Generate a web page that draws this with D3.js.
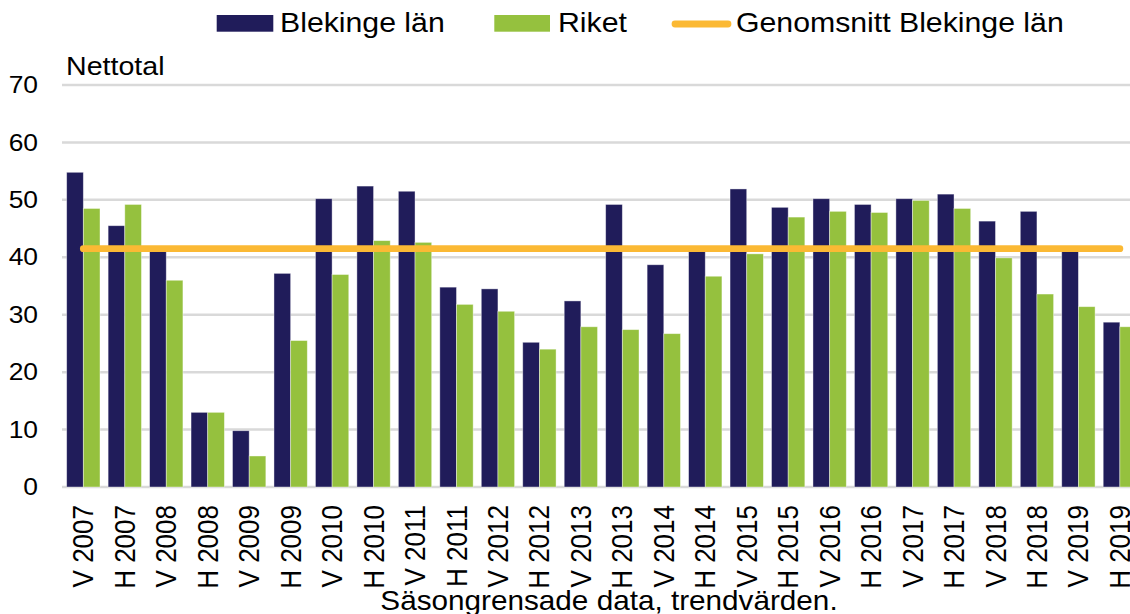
<!DOCTYPE html>
<html>
<head>
<meta charset="utf-8">
<script src="https://cdn.jsdelivr.net/npm/d3@7"></script>
<style>
  body { margin: 0; background: #fff; }
  text { font-family: "Liberation Sans", Arial, sans-serif; fill: #000; }
</style>
</head>
<body>
<script>
// chart data
const periods = ['V 2007', 'H 2007', 'V 2008', 'H 2008', 'V 2009', 'H 2009', 'V 2010', 'H 2010',
  'V 2011', 'H 2011', 'V 2012', 'H 2012', 'V 2013', 'H 2013', 'V 2014', 'H 2014', 'V 2015',
  'H 2015', 'V 2016', 'H 2016', 'V 2017', 'H 2017', 'V 2018', 'H 2018', 'V 2019', 'H 2019'];
const blekinge = [54.8, 45.5, 41.2, 13.0, 9.8, 37.2, 50.2, 52.4, 51.5, 34.8, 34.5, 25.2, 32.4,
  49.2, 38.7, 41.2, 51.9, 48.7, 50.2, 49.2, 50.2, 51.0, 46.3, 48.0, 41.2, 28.7];
const riket = [48.5, 49.2, 36.0, 13.0, 5.4, 25.5, 37.0, 42.9, 42.6, 31.8, 30.6, 24.0, 27.9,
  27.4, 26.7, 36.7, 40.6, 47.0, 48.0, 47.8, 49.9, 48.5, 39.9, 33.6, 31.4, 27.9];
const blekingeAvg = 41.5;
const yTicks = [0, 10, 20, 30, 40, 50, 60, 70];
const seriesNames = ['Blekinge län', 'Riket', 'Genomsnitt Blekinge län'];

const colors = { blek: '#201c5a', riket: '#95c13e', avg: '#fbb934', grid: '#d9d9d9' };
const stretch = 'scale(1.1,1)'; // text in the picture is a bit wide

const width = 1130, height = 614;
const svg = d3.select('body').append('svg')
  .attr('width', width)
  .attr('height', height);

const x0 = d3.scaleBand()
  .domain(periods)
  .range([62.6, 1140.6])
  .paddingInner(0.196)
  .paddingOuter(0.098);

const x1 = d3.scaleBand()
  .domain(['blek', 'riket'])
  .range([0, x0.bandwidth()]);

const y = d3.scaleLinear()
  .domain([0, 70])
  .range([487, 85]);

// gridlines
svg.append('g')
  .selectAll('line')
  .data(yTicks)
  .enter().append('line')
  .attr('x1', 62)
  .attr('x2', width)
  .attr('y1', d => y(d))
  .attr('y2', d => y(d))
  .attr('stroke', colors.grid)
  .attr('stroke-width', 2.5);

// y axis
const yAxis = svg.append('g')
  .attr('transform', 'translate(62,0)')
  .call(d3.axisLeft(y).tickValues(yTicks).tickSize(0).tickPadding(21.8));
yAxis.select('.domain').remove();
yAxis.selectAll('text')
  .style('font-size', '24px')
  .style('font-family', '"Liberation Sans", Arial, sans-serif')
  .attr('fill', '#000')
  .attr('transform', stretch);

// bars
const rows = periods.map((p, i) => ({ period: p, blek: blekinge[i], riket: riket[i] }));
const groups = svg.append('g')
  .selectAll('g')
  .data(rows)
  .enter().append('g')
  .attr('transform', d => `translate(${x0(d.period)},0)`);

groups.selectAll('rect')
  .data(d => ['blek', 'riket'].map(k => ({ key: k, value: d[k] })))
  .enter().append('rect')
  .attr('x', d => x1(d.key))
  .attr('width', x1.bandwidth())
  .attr('y', d => y(d.value))
  .attr('height', d => y(0) - y(d.value))
  .attr('fill', d => colors[d.key])
  .attr('stroke', '#fff')
  .attr('stroke-opacity', 0.5)
  .attr('stroke-width', 0.8);

// average line
svg.append('line')
  .attr('x1', x0(periods[0]) + x0.bandwidth() / 2)
  .attr('x2', x0(periods[periods.length - 1]) + x0.bandwidth() / 2)
  .attr('y1', y(blekingeAvg))
  .attr('y2', y(blekingeAvg))
  .attr('stroke', colors.avg)
  .attr('stroke-width', 6.8)
  .attr('stroke-linecap', 'round');

// x axis
const xAxis = svg.append('g')
  .attr('transform', `translate(0,${y(0)})`)
  .call(d3.axisBottom(x0).tickSize(0));
xAxis.select('.domain').remove();
xAxis.selectAll('text')
  .style('font-size', '26px')
  .style('font-family', '"Liberation Sans", Arial, sans-serif')
  .attr('fill', '#000')
  .attr('x', 0)
  .attr('y', 0)
  .attr('dy', '0.35em')
  .attr('text-anchor', 'end')
  .attr('transform', `translate(0,18) ${stretch} rotate(-90)`);

// axis titles
svg.append('text')
  .attr('transform', `translate(66,75) ${stretch}`)
  .style('font-size', '26px')
  .text('Nettotal');

svg.append('text')
  .attr('transform', `translate(609,610) ${stretch}`)
  .attr('text-anchor', 'middle')
  .style('font-size', '27px')
  .text('Säsongrensade data, trendvärden.');

// legend
const legend = svg.append('g');
legend.append('rect')
  .attr('x', 216.7).attr('y', 15).attr('width', 56.6).attr('height', 16.7)
  .attr('fill', colors.blek);
legend.append('text')
  .attr('transform', `translate(280,32) ${stretch}`)
  .style('font-size', '27.5px')
  .text(seriesNames[0]);

legend.append('rect')
  .attr('x', 494.3).attr('y', 15).attr('width', 55.7).attr('height', 16.7)
  .attr('fill', colors.riket);
legend.append('text')
  .attr('transform', `translate(558,32) ${stretch}`)
  .style('font-size', '27.5px')
  .text(seriesNames[1]);

legend.append('line')
  .attr('x1', 675).attr('x2', 728).attr('y1', 24).attr('y2', 24)
  .attr('stroke', colors.avg)
  .attr('stroke-width', 6.8)
  .attr('stroke-linecap', 'round');
legend.append('text')
  .attr('transform', `translate(736,32) ${stretch}`)
  .style('font-size', '27.5px')
  .text(seriesNames[2]);
</script>
</body>
</html>
